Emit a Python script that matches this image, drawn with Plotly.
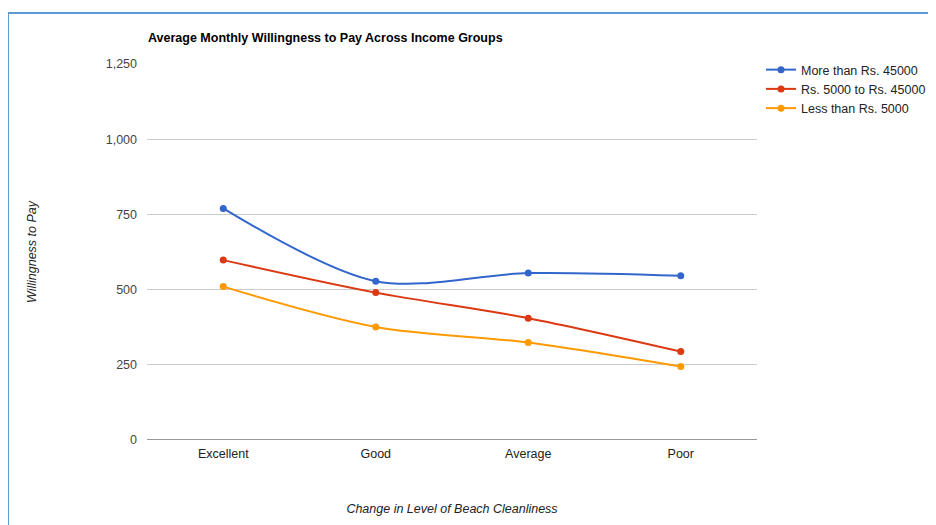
import plotly.graph_objects as go

categories = ["Excellent", "Good", "Average", "Poor"]
series_names = ["More than Rs. 45000", "Rs. 5000 to Rs. 45000", "Less than Rs. 5000"]
high_income = [770, 528, 555, 546]
mid_income = [598, 490, 405, 294]
low_income = [510, 376, 324, 244]
colors = ["#3366cc", "#dc3912", "#ff9900"]
y_ticks = [0, 250, 500, 750, 1000, 1250]

FONT = "Arial, Liberation Sans, sans-serif"

fig = go.Figure()
for name, vals, col in zip(series_names, [high_income, mid_income, low_income], colors):
    fig.add_trace(go.Scatter(
        x=list(range(len(categories))), y=vals, name=name, mode="lines+markers",
        line=dict(color=col, width=2, shape="spline", smoothing=0.9),
        marker=dict(color=col, size=7),
    ))

# page offset of 8px (body margin) is compensated in the figure size/margins
OFF = 8
W, H = 936 - OFF, 525 - OFF
L, R, T, B = 147 - OFF, 179, 64 - OFF, 85
pw, ph = W - L - R, H - T - B

def px_x(x):
    return (x - OFF - L) / pw

def px_y(y):
    return (H - B - (y - OFF)) / ph

fig.update_layout(
    width=W, height=H,
    margin=dict(l=L, r=R, t=T, b=B, autoexpand=False),
    paper_bgcolor="white", plot_bgcolor="white",
    font=dict(family=FONT, size=12.5, color="#444"),
    title=dict(text="<b>Average Monthly Willingness to Pay Across Income Groups</b>",
               x=(148 - OFF) / W, xref="container", xanchor="left",
               y=1 - (38 - OFF) / H, yref="container", yanchor="middle",
               font=dict(family=FONT, size=12.5, color="#000")),
    showlegend=True,
    legend=dict(x=px_x(761), y=px_y(55), xanchor="left", yanchor="top",
                font=dict(family=FONT, size=12.5, color="#222"),
                bgcolor="rgba(0,0,0,0)", tracegroupgap=0, itemwidth=30),
    xaxis=dict(
        tickmode="array", tickvals=list(range(len(categories))), ticktext=categories,
        range=[-0.5, 3.5], showgrid=False, zeroline=False, showline=False,
        ticks="", tickfont=dict(size=12.5, color="#222"), ticklabelstandoff=4,
        title=dict(text="<i>Change in Level of Beach Cleanliness</i>", standoff=44,
                   font=dict(size=12.5, color="#222")),
    ),
    yaxis=dict(
        range=[0, 1250], tickvals=y_ticks, tickformat=",",
        showgrid=True, gridcolor="#cccccc", gridwidth=1,
        zeroline=False, showline=False, ticks="",
        tickfont=dict(size=12.5, color="#444"), ticklabelstandoff=9,
        title=dict(text="<i>Willingness to Pay</i>", standoff=66,
                   font=dict(size=12.5, color="#222")),
    ),
)

# darker baseline at zero
fig.add_shape(type="line", xref="paper", yref="y", x0=0, x1=1, y0=0, y1=0,
              line=dict(color="#333333", width=1), layer="above")

# blue frame (top and left edges of a screenshot border)
bx, by = px_x(8), px_y(13)
fig.add_shape(type="line", xref="paper", yref="paper", x0=bx, x1=px_x(945), y0=by, y1=by,
              line=dict(color="#5b9bd5", width=2))
fig.add_shape(type="line", xref="paper", yref="paper", x0=bx, x1=bx, y0=by, y1=px_y(540),
              line=dict(color="#5b9bd5", width=2))

fig.write_html("out.html")
